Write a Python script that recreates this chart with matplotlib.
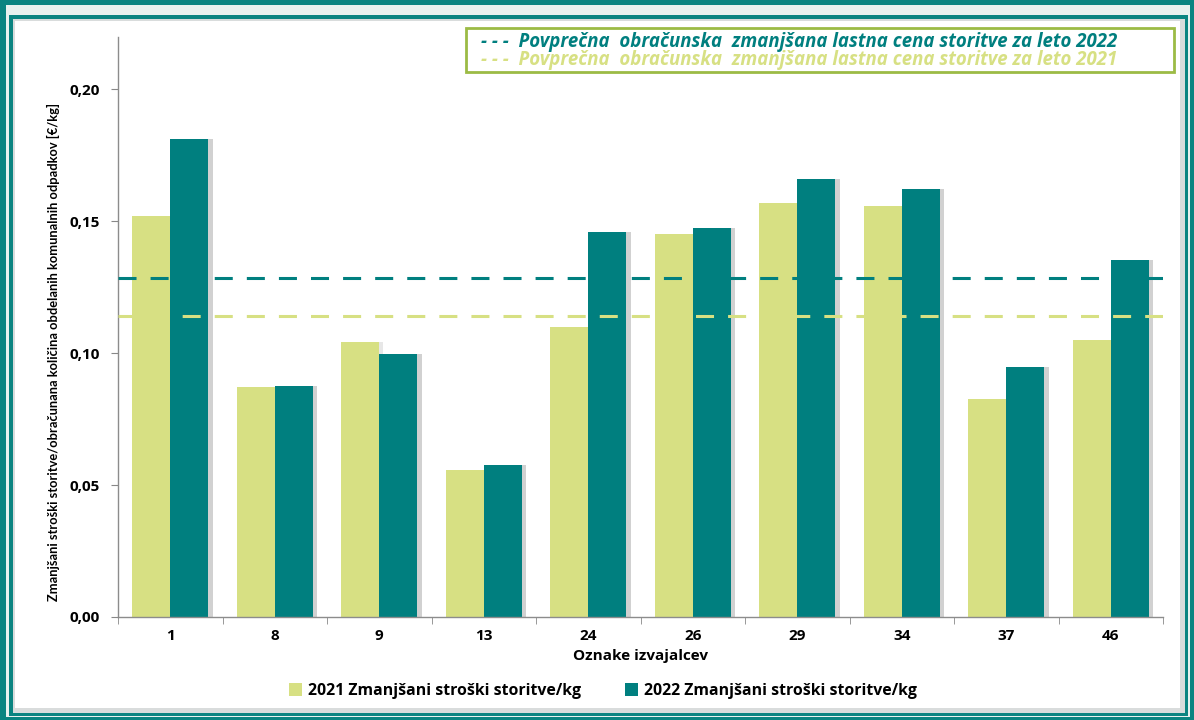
import matplotlib
matplotlib.use("Agg")
import matplotlib.pyplot as plt
import numpy as np
from matplotlib.patches import Rectangle
from matplotlib.ticker import FixedLocator, FuncFormatter

categories = ["1", "8", "9", "13", "24", "26", "29", "34", "37", "46"]
v2021 = [0.152, 0.087, 0.104, 0.0555, 0.110, 0.1452, 0.1567, 0.1557, 0.0825, 0.105]
v2022 = [0.181, 0.0875, 0.0998, 0.0575, 0.1457, 0.1475, 0.166, 0.162, 0.0948, 0.1352]
avg2022 = 0.1283
avg2021 = 0.1140
yticks = [0.0, 0.05, 0.10, 0.15, 0.20]

C21 = "#d7e083"
C22 = "#007f7f"
TEAL = "#0b8481"

plt.rcParams["font.family"] = ["Open Sans", "DejaVu Sans"]

fig = plt.figure(figsize=(11.94, 7.2), dpi=100)
fig.patch.set_facecolor(TEAL)

W, H = 1194, 720
def frac_rect(x0, y0, x1, y1, z=-5, **kw):
    r = Rectangle((x0 / W, 1 - y1 / H), (x1 - x0) / W, (y1 - y0) / H,
                  transform=fig.transFigure, zorder=z, **kw)
    fig.patches.append(r)
    return r

frac_rect(6, 5, 1190, 717, facecolor="#e9f1ef", edgecolor="none", z=-5)
frac_rect(9, 15, 1188, 716, facecolor=TEAL, edgecolor="none", z=-4)
frac_rect(13, 19, 1185, 713, facecolor="#d9dcdc", edgecolor="none", z=-3)
frac_rect(15, 21, 1180, 708, facecolor="white", edgecolor="none", z=-2)

ax = fig.add_axes([118 / W, 1 - 617 / H, (1163 - 118) / W, (617 - 37) / H])
ax.set_zorder(1)
ax.set_facecolor("none")

x = np.arange(len(categories))
bw = 0.365
# subtle shadows
ax.bar(x - bw / 2 + 0.04, v2021, bw, color="#bdbdbd", alpha=0.35, zorder=1)
ax.bar(x + bw / 2 + 0.04, v2022, bw, color="#9a9a9a", alpha=0.45, zorder=1)
b1 = ax.bar(x - bw / 2, v2021, bw, color=C21, zorder=2,
            label="2021 Zmanjšani stroški storitve/kg")
b2 = ax.bar(x + bw / 2, v2022, bw, color=C22, zorder=2,
            label="2022 Zmanjšani stroški storitve/kg")

ax.axhline(avg2022, color=C22, lw=2.2, ls=(0, (5.9, 4.6)), zorder=4)
ax.axhline(avg2021, color=C21, lw=2.2, ls=(0, (5.9, 4.6)), zorder=4)

ax.set_xlim(-0.5, len(categories) - 0.5)
ax.set_ylim(0, 0.2197)
ax.set_yticks(yticks)
ax.yaxis.set_major_formatter(FuncFormatter(lambda v, p: f"{v:.2f}".replace(".", ",")))
ax.set_xticks(x)
ax.set_xticklabels(categories)
ax.xaxis.set_minor_locator(FixedLocator(np.arange(-0.5, len(categories), 1.0)))
ax.tick_params(axis="x", which="major", length=0, pad=9, labelsize=11, colors="black")
ax.tick_params(axis="x", which="minor", length=5, color="#888888", direction="out")
ax.tick_params(axis="y", length=5, color="#888888", labelsize=11, pad=8)
for lab in ax.get_xticklabels() + ax.get_yticklabels():
    lab.set_fontweight("bold")

for s in ["top", "right"]:
    ax.spines[s].set_visible(False)
for s in ["left", "bottom"]:
    ax.spines[s].set_color("#8c8c8c")
    ax.spines[s].set_linewidth(1.0)

ax.set_xlabel("Oznake izvajalcev", fontsize=11, fontweight="bold", labelpad=4)
fig.text(53 / W, 1 - 352 / H,
         "Zmanjšani stroški storitve/obračunana količina obdelanih komunalnih odpadkov [€/kg]",
         rotation=90, ha="center", va="center", fontsize=9.3, fontweight="bold",
         family=["Lato", "DejaVu Sans"])

# top-right annotation box
frac_rect(466, 28, 1174, 72, z=5, facecolor="white", edgecolor="#9cbb45", lw=2.0)
fig.text(481 / W, 1 - 42 / H, "- - -  Povprečna  obračunska  zmanjšana lastna cena storitve za leto 2022",
         color=C22, fontsize=13.4, fontweight="bold", style="italic", va="center", zorder=6)
fig.text(481 / W, 1 - 60 / H, "- - -  Povprečna  obračunska  zmanjšana lastna cena storitve za leto 2021",
         color=C21, fontsize=13.4, fontweight="bold", style="italic", va="center", zorder=6)

leg = fig.legend(handles=[b1, b2], loc="center", bbox_to_anchor=(603 / W, 1 - 691 / H),
                 ncol=2, frameon=False, fontsize=11.4, handlelength=0.8, handleheight=0.8,
                 columnspacing=2.8, handletextpad=0.4)
for t in leg.get_texts():
    t.set_fontweight("bold")

fig.savefig("out.png", dpi=100, facecolor=fig.get_facecolor())
